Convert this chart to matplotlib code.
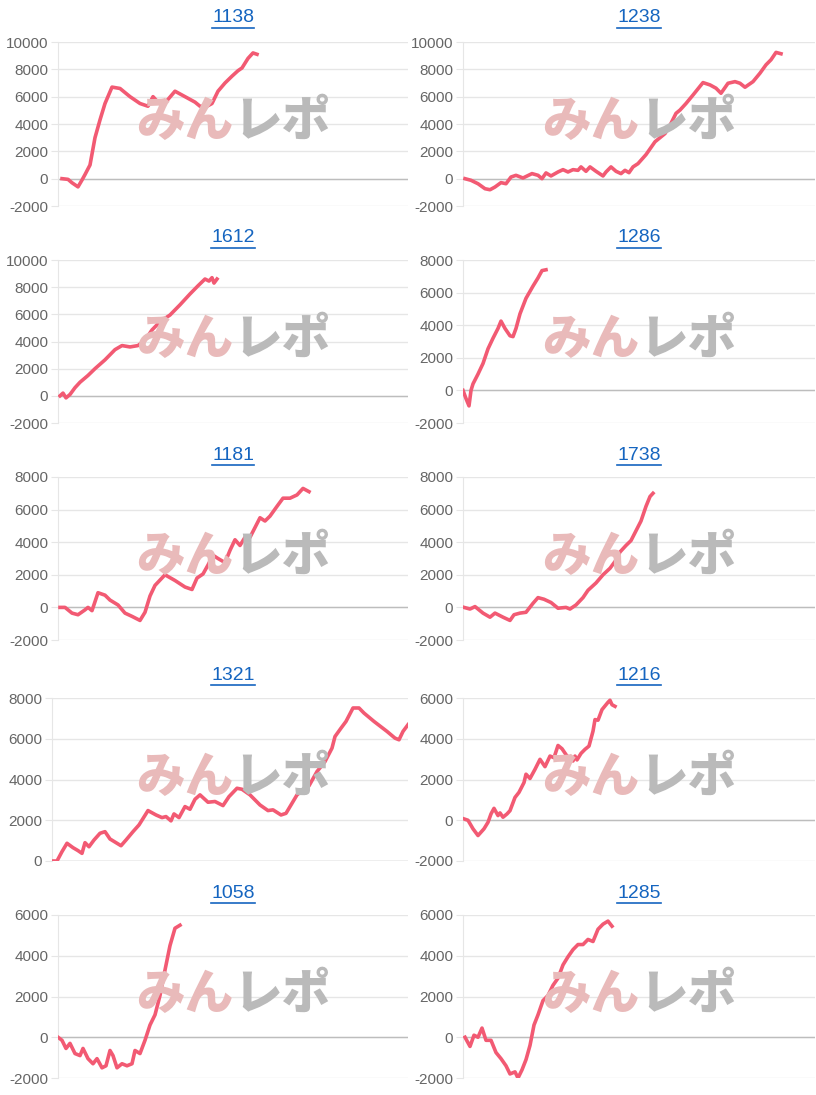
import matplotlib.pyplot as plt
from matplotlib.ticker import MultipleLocator
from matplotlib.lines import Line2D

plt.rcParams['font.family'] = ['Liberation Sans', 'DejaVu Sans']
plt.rcParams['axes.unicode_minus'] = False

# --- data (x = trading days from start, y = profit) ---
names = ['1138', '1238', '1612', '1286', '1181', '1738', '1321', '1216', '1058', '1285']

x_1138 = [4, 10, 14, 20, 24, 27, 32, 37, 42, 47, 54, 62, 72, 82, 90, 95, 100, 105, 110, 117, 127, 137, 142, 149, 154, 160, 167, 174, 180, 184, 190, 195, 199]
y_1138 = [0, -50, -300, -600, -100, 300, 1000, 3000, 4300, 5500, 6700, 6600, 6000, 5500, 5300, 6000, 5600, 5400, 5800, 6400, 6000, 5600, 5300, 5300, 5500, 6400, 7000, 7500, 7900, 8100, 8800, 9200, 9100]

x_1238 = [2, 8, 15, 22, 27, 32, 38, 43, 48, 53, 60, 69, 75, 79, 83, 88, 95, 100, 105, 110, 115, 118, 123, 127, 133, 140, 143, 148, 153, 158, 162, 166, 170, 175, 183, 192, 197, 202, 207, 213, 217, 223, 230, 240, 247, 253, 258, 265, 272, 277, 282, 290, 297, 303, 308, 313, 318]
y_1238 = [0, -120, -370, -735, -810, -610, -290, -370, 120, 245, 50, 370, 245, 0, 420, 200, 490, 660, 490, 660, 610, 860, 540, 860, 540, 200, 490, 860, 540, 370, 610, 440, 860, 1100, 1760, 2700, 3000, 3300, 3900, 4780, 5020, 5500, 6120, 7030, 6860, 6620, 6250, 6980, 7100, 6980, 6690, 7100, 7720, 8330, 8700, 9240, 9140]

x_1612 = [2, 5, 8, 12, 17, 22, 30, 37, 47, 57, 64, 72, 80, 87, 94, 102, 112, 122, 132, 140, 147, 151, 154, 156, 159]
y_1612 = [0, 200, -150, 100, 600, 1000, 1500, 2000, 2650, 3400, 3700, 3600, 3700, 4100, 4850, 5450, 5950, 6700, 7500, 8100, 8600, 8450, 8700, 8300, 8600]

x_1286 = [0, 3, 6, 8, 10, 15, 20, 25, 30, 35, 38, 42, 47, 50, 53, 57, 63, 70, 75, 79, 83]
y_1286 = [0, -500, -950, 0, 400, 1000, 1650, 2550, 3200, 3800, 4250, 3800, 3350, 3300, 3800, 4700, 5650, 6400, 6900, 7350, 7400]

x_1181 = [2, 7, 14, 20, 27, 30, 34, 40, 47, 52, 60, 67, 74, 82, 87, 92, 97, 107, 117, 127, 134, 139, 145, 150, 155, 160, 167, 172, 177, 182, 187, 192, 197, 202, 207, 212, 219, 225, 232, 239, 245, 251]
y_1181 = [0, 0, -350, -450, -150, 0, -200, 900, 750, 450, 150, -350, -550, -800, -300, 700, 1350, 2000, 1650, 1250, 1100, 1800, 2050, 2600, 3200, 3000, 2750, 3500, 4150, 3800, 4300, 4300, 4900, 5500, 5300, 5600, 6200, 6700, 6700, 6900, 7300, 7100]

x_1738 = [1, 7, 12, 20, 27, 32, 40, 47, 51, 57, 63, 70, 75, 81, 88, 95, 103, 107, 113, 120, 125, 133, 140, 147, 153, 157, 163, 168, 173, 178, 183, 187, 190]
y_1738 = [0, -100, 50, -350, -600, -350, -600, -800, -450, -350, -300, 250, 600, 500, 300, -50, 0, -100, 150, 600, 1050, 1500, 2000, 2400, 2900, 3400, 3800, 4100, 4700, 5300, 6200, 6800, 7000]

x_1321 = [0, 5, 10, 15, 21, 26, 30, 33, 37, 42, 48, 53, 58, 65, 69, 74, 81, 87, 96, 104, 110, 114, 119, 122, 127, 133, 138, 143, 148, 156, 163, 171, 177, 185, 190, 198, 208, 216, 221, 229, 234, 239, 245, 252, 257, 265, 273, 280, 283, 289, 294, 301, 307, 312, 322, 335, 343, 347, 351, 356]
y_1321 = [0, 0, 460, 870, 655, 510, 375, 900, 700, 1030, 1360, 1440, 1080, 870, 750, 1030, 1440, 1770, 2475, 2260, 2130, 2180, 1970, 2310, 2130, 2670, 2540, 3030, 3245, 2885, 2920, 2720, 3160, 3570, 3520, 3245, 2750, 2475, 2510, 2260, 2340, 2750, 3245, 3520, 3690, 4390, 4880, 5540, 6110, 6520, 6850, 7510, 7510, 7260, 6850, 6360, 6030, 5950, 6360, 6690]

x_1216 = [1, 5, 10, 15, 21, 25, 28, 31, 35, 37, 40, 44, 47, 52, 56, 61, 63, 67, 72, 77, 82, 87, 91, 95, 99, 104, 108, 110, 112, 114, 118, 122, 126, 130, 132, 135, 139, 143, 145, 147, 149, 152]
y_1216 = [65, 0, -420, -750, -420, -100, 310, 585, 230, 360, 150, 310, 470, 1120, 1370, 1850, 2260, 2050, 2500, 2990, 2630, 3150, 3070, 3670, 3510, 3150, 3070, 2910, 3150, 2960, 3280, 3480, 3640, 4370, 4940, 4910, 5430, 5670, 5790, 5890, 5670, 5590]

x_1058 = [0, 4, 8, 12, 17, 22, 25, 30, 35, 39, 44, 48, 52, 55, 59, 64, 69, 74, 77, 82, 87, 92, 97, 102, 107, 112, 117, 122]
y_1058 = [0, -150, -550, -300, -800, -900, -550, -1050, -1300, -1050, -1500, -1400, -650, -900, -1500, -1300, -1400, -1300, -650, -800, -150, 600, 1100, 2050, 3300, 4500, 5350, 5500]

x_1285 = [2, 7, 11, 15, 19, 23, 28, 33, 38, 43, 47, 52, 55, 59, 63, 67, 71, 75, 80, 85, 90, 95, 100, 105, 110, 115, 120, 125, 130, 135, 140, 145, 149]
y_1285 = [0, -450, 100, 0, 450, -150, -150, -750, -1050, -1400, -1800, -1700, -2000, -1600, -1100, -400, 600, 1100, 1800, 2050, 2550, 2900, 3550, 3950, 4300, 4550, 4550, 4800, 4700, 5300, 5550, 5700, 5450]

series_x = [x_1138, x_1238, x_1612, x_1286, x_1181, x_1738, x_1321, x_1216, x_1058, x_1285]
series_y = [y_1138, y_1238, y_1612, y_1286, y_1181, y_1738, y_1321, y_1216, y_1058, y_1285]
y_ranges = [(-2000, 10000), (-2000, 10000), (-2000, 10000), (-2000, 8000), (-2000, 8000),
            (-2000, 8000), (0, 8000), (-2000, 6000), (-2000, 6000), (-2000, 6000)]

W, H = 816, 1095
fig = plt.figure(figsize=(W / 100, H / 100), dpi=100)

row_px = [(42, 206, 18), (260, 423, 238), (477, 640, 455), (698, 861, 675), (915, 1078, 893)]
col_px = [(58, 408), (463, 815)]
titles = []
jp = ['Noto Sans CJK JP', 'DejaVu Sans']

for i, name in enumerate(names):
    r, c = divmod(i, 2)
    top, bot, ty = row_px[r]
    x0, x1 = col_px[c]
    if i == 6:
        x0 = 52
    ax = fig.add_axes([x0 / W, 1 - bot / H, (x1 - x0) / W, (bot - top) / H])
    lo, hi = y_ranges[i]
    ax.set_ylim(lo, hi)
    ax.set_xlim(0, x1 - x0)
    ax.yaxis.set_major_locator(MultipleLocator(2000))
    ax.grid(axis='y', color='#e6e6e6', linewidth=1)
    ax.set_axisbelow(True)
    ax.axhline(0, color='#bdbdbd', linewidth=1, zorder=1)
    for s in ['top', 'right', 'bottom']:
        ax.spines[s].set_visible(False)
    ax.spines['left'].set_color('#e6e6e6')
    ax.tick_params(axis='x', bottom=False, labelbottom=False)
    ax.tick_params(axis='y', length=5, color='#e6e6e6', labelsize=11, labelcolor='#666666', pad=2)

    # watermark
    cx = (58 + 408) / 2 / W if c == 0 else (463 + 815) / 2 / W
    cy = 1 - ((top + bot) / 2 - 2) / H
    fig.text(cx, cy, 'みん', color='#e9baba', fontsize=35, fontweight='heavy',
             family=jp, ha='right', va='center', zorder=0)
    fig.text(cx, cy, 'レポ', color='#bababa', fontsize=35, fontweight='heavy',
             family=jp, ha='left', va='center', zorder=0)

    ax.patch.set_alpha(0)
    ax.plot(series_x[i], series_y[i], color='#f25a73', linewidth=2.6, solid_joinstyle='round', zorder=3)

    titles.append(fig.text(cx, 1 - ty / H, name, color='#1565c0', fontsize=14,
                           ha='center', va='center'))

# underline the titles like links
fig.canvas.draw()
rend = fig.canvas.get_renderer()
for t in titles:
    bb = t.get_window_extent(rend)
    yl = (bb.y0 - 1) / H
    fig.add_artist(Line2D([bb.x0 / W, bb.x1 / W], [yl, yl], color='#1565c0', linewidth=1.2))

fig.savefig('out.png', dpi=100)
